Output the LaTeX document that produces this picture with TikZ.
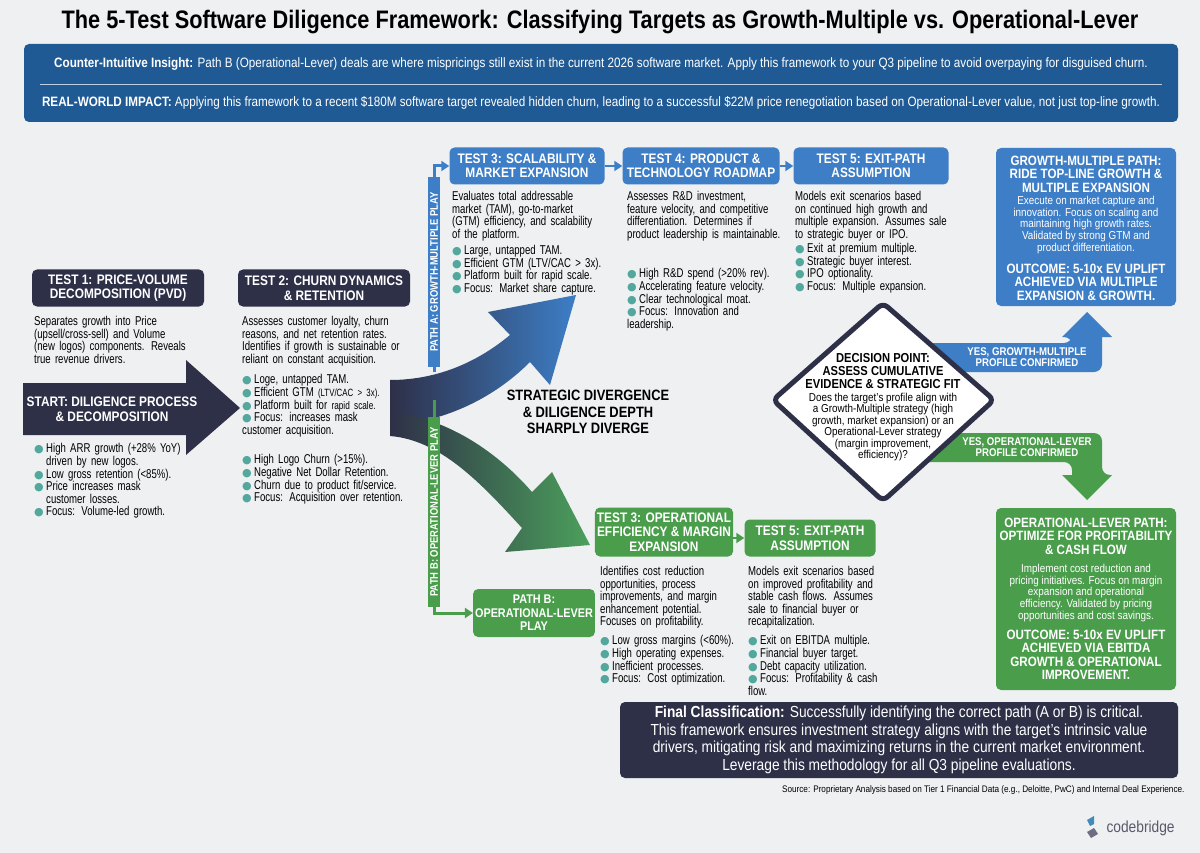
\documentclass[tikz,border=0pt]{standalone}
\usepackage{fontspec}
\setmainfont[FakeStretch=0.86]{Liberation Sans}
\newfontfamily\condf[FakeStretch=0.75]{Liberation Sans}
\newfontfamily\dejavu{DejaVu Sans}
\usetikzlibrary{arrows.meta,shadings}
\definecolor{navy}{HTML}{2E3048}
\definecolor{bblue}{HTML}{3D7EC6}
\definecolor{ggreen}{HTML}{4A9E4B}
\definecolor{banner}{HTML}{1F5A94}
\definecolor{tealb}{HTML}{52A89C}
\definecolor{bg}{HTML}{EEF0F2}
\hyphenpenalty=10000
\exhyphenpenalty=10000
\newcommand\bi[1]{\par\hangindent=12pt\hangafter=1\noindent\makebox[12pt][l]{\textcolor{tealb}{\dejavu\fontsize{11}{11}\selectfont ●}}#1}
\tikzset{
  hdr/.style={rounded corners=5pt, text=white, font=\fontsize{13.8}{14.5}\selectfont\bfseries, align=center, inner sep=2pt},
  desc/.style={anchor=north west, inner sep=0pt, align=left, font=\condf\fontsize{12.8}{12.6}\selectfont},
  conn/.style={-{Triangle[length=8pt,width=10pt]}, line width=3pt},
}
\begin{document}
\begin{tikzpicture}[x=1pt,y=-1pt]
\useasboundingbox (0,0) rectangle (1200,853);
\fill[bg] (0,0) rectangle (1200,853);
\node[font=\fontsize{25.3}{27}\selectfont\bfseries] (title) at (600,22) {The 5-Test Software Diligence Framework: Classifying Targets as Growth-Multiple vs. Operational-Lever};
\fill[banner, rounded corners=5pt] (24,44) rectangle (1178,122);
\draw[white!70!banner, line width=0.8pt] (40,84) -- (1162,84);
\node[text=white, font=\fontsize{13.6}{14}\selectfont] (b1) at (601,64) {\textbf{Counter-Intuitive Insight:} Path B (Operational-Lever) deals are where mispricings still exist in the current 2026 software market. Apply this framework to your Q3 pipeline to avoid overpaying for disguised churn.};
\node[text=white, font=\fontsize{13.6}{14}\selectfont] (b2) at (601,103) {\textbf{REAL-WORLD IMPACT:} Applying this framework to a recent \$180M software target revealed hidden churn, leading to a successful \$22M price renegotiation based on Operational-Lever value, not just top-line growth.};
% start arrow
\fill[navy] (23,383) -- (186,383) -- (186,360) -- (240,408) -- (186,455) -- (186,435) -- (23,435) -- cycle;
\node[text=white, font=\fontsize{13.8}{15}\selectfont\bfseries, align=center] (start) at (112,409) {START: DILIGENCE PROCESS\\\& DECOMPOSITION};
% split arrows
\shade[left color=navy, right color=bblue] (390,380) .. controls (440,380) and (480,360) .. (510,335) -- (488,312) -- (576,295) -- (550,385) -- (530,362) .. controls (490,402) and (440,422) .. (390,426) -- cycle;
\shade[left color=navy, right color=ggreen!80!tealb] (390,412) .. controls (450,418) and (500,455) .. (532,492) -- (552,472) -- (590,545) -- (505,552) -- (522,528) .. controls (480,482) and (440,440) .. (390,436) -- cycle;
\node[font=\fontsize{15}{16.5}\selectfont\bfseries, align=center] (div) at (588,412) {STRATEGIC DIVERGENCE\\\& DILIGENCE DEPTH\\SHARPLY DIVERGE};
% test1 / test2
\node[hdr, fill=navy, minimum width=172pt, minimum height=37pt] (t1) at (118,288) {TEST 1: PRICE-VOLUME\\DECOMPOSITION (PVD)};
\node[desc, text width=155pt] (t1d) at (34,316) {Separates growth into Price (upsell/cross-sell) and Volume (new logos) components. Reveals true revenue drivers.};
\node[desc, text width=150pt] (t1b) at (34,440) {\bi{High ARR growth (+28\% YoY) driven by new logos.}\bi{Low gross retention (<85\%).}\bi{Price increases mask customer losses.}\bi{Focus: Volume-led growth.}};
\node[hdr, fill=navy, minimum width=172pt, minimum height=37pt] (t2) at (324,288) {TEST 2: CHURN DYNAMICS\\\& RETENTION};
\node[desc, text width=172pt] (t2d) at (242,316) {Assesses customer loyalty, churn reasons, and net retention rates. Identifies if growth is sustainable or reliant on constant acquisition.};
\node[desc, text width=150pt] (t2b) at (242,371) {\bi{Loge, untapped TAM.}\bi{Efficient GTM {\fontsize{10.5}{10}\selectfont(LTV/CAC > 3x).}}\bi{Platform built for {\fontsize{11}{10}\selectfont rapid scale.}}\bi{Focus: increases mask customer acquisition.}};
\node[desc, text width=175pt] (t2c) at (242,451) {\bi{High Logo Churn (>15\%).}\bi{Negative Net Dollar Retention.}\bi{Churn due to product fit/service.}\bi{Focus: Acquisition over retention.}};
% path A
\node[hdr, fill=bblue, minimum width=155pt, minimum height=37pt] (t3) at (527,166) {TEST 3: SCALABILITY \&\\MARKET EXPANSION};
\node[hdr, fill=bblue, minimum width=157pt, minimum height=37pt] (t4) at (701,166) {TEST 4: PRODUCT \&\\TECHNOLOGY ROADMAP};
\node[hdr, fill=bblue, minimum width=155pt, minimum height=37pt] (t5) at (871,166) {TEST 5: EXIT-PATH\\ASSUMPTION};
\draw[bblue, conn, line width=2pt] (t3.east) -- (t4.west);
\draw[bblue, conn, line width=2pt] (t4.east) -- (t5.west);
\coordinate (pa) at (434,372);
\draw[bblue, conn] (pa) |- (t3.west);
\node[fill=bblue, text=white, rotate=90, font=\fontsize{11}{11}\selectfont\bfseries, minimum width=190pt, inner sep=2.5pt] (pal) at (434,272) {PATH A: GROWTH-MULTIPLE PLAY};
\node[desc, text width=150pt] (t3d) at (452,191) {Evaluates total addressable market (TAM), go-to-market (GTM) efficiency, and scalability of the platform.};
\node[desc, text width=165pt] (t3b) at (452,242) {\bi{Large, untapped TAM.}\bi{Efficient GTM (LTV/CAC > 3x).}\bi{Platform built for rapid scale.}\bi{Focus: Market share capture.}};
\node[desc, text width=154pt] (t4d) at (627,191) {Assesses R\&D investment, feature velocity, and competitive differentiation. Determines if product leadership is maintainable.};
\node[desc, text width=150pt] (t4b) at (627,265) {\bi{High R\&D spend (>20\% rev).}\bi{Accelerating feature velocity.}\bi{Clear technological moat.}\bi{Focus: Innovation and leadership.}};
\node[desc, text width=156pt] (t5d) at (795,191) {Models exit scenarios based on continued high growth and multiple expansion. Assumes sale to strategic buyer or IPO.};
\node[desc, text width=155pt] (t5b) at (795,240) {\bi{Exit at premium multiple.}\bi{Strategic buyer interest.}\bi{IPO optionality.}\bi{Focus: Multiple expansion.}};
\node[fill=bblue, rounded corners=5pt, minimum width=180pt, minimum height=158pt] (gm) at (1086,227) {};
\node[text=white, align=center, font=\fontsize{13.5}{13.5}\selectfont\bfseries] (gmt) at (1086,174) {GROWTH-MULTIPLE PATH:\\RIDE TOP-LINE GROWTH \&\\MULTIPLE EXPANSION};
\node[text=white, align=center, font=\fontsize{11.5}{11.7}\selectfont] (gmd) at (1086,225) {Execute on market capture and\\innovation. Focus on scaling and\\maintaining high growth rates.\\Validated by strong GTM and\\product differentiation.};
\node[text=white, align=center, font=\fontsize{13.5}{13.5}\selectfont\bfseries] (gmo) at (1086,282) {OUTCOME: 5-10x EV UPLIFT\\ACHIEVED VIA MULTIPLE\\EXPANSION \& GROWTH.};
% decision arrows
\fill[bblue, rounded corners=8pt] (900,343) -- (1072,343) -- (1072,337) [sharp corners]-- (1062,337) -- (1087,312) -- (1112,337) -- (1102,337) [rounded corners=8pt]-- (1102,372) -- (900,372) -- cycle;
\node[text=white, align=center, font=\fontsize{11.2}{11.3}\selectfont\bfseries] (yg) at (1027,357) {YES, GROWTH-MULTIPLE\\PROFILE CONFIRMED};
\fill[ggreen, rounded corners=8pt] (900,433) -- (1102,433) -- (1102,475) [sharp corners]-- (1112,475) -- (1087,500) -- (1062,475) -- (1072,475) [rounded corners=8pt]-- (1072,462) -- (900,462) -- cycle;
\node[text=white, align=center, font=\fontsize{11.2}{11.3}\selectfont\bfseries] (yo) at (1027,447) {YES, OPERATIONAL-LEVER\\PROFILE CONFIRMED};
\draw[navy, line width=5pt, rounded corners=6pt, fill=white] (883,303) -- (994,400) -- (883,501) -- (773,400) -- cycle;
\node[align=center, font=\fontsize{13}{13.3}\selectfont\bfseries] (dp) at (883,371) {DECISION POINT:\\ASSESS CUMULATIVE\\EVIDENCE \& STRATEGIC FIT};
\node[align=center, font=\fontsize{11.5}{11.5}\selectfont] (dpd) at (883,427) {Does the target's profile align with\\a Growth-Multiple strategy (high\\growth, market expansion) or an\\Operational-Lever strategy\\(margin improvement,\\efficiency)?};
% path B
\node[hdr, fill=ggreen, minimum width=118pt, minimum height=48pt, font=\fontsize{12.6}{13.5}\selectfont\bfseries] (pb) at (534,613) {PATH B:\\OPERATIONAL-LEVER\\PLAY};
\coordinate (pbs) at (434,400);
\draw[ggreen, conn] (pbs) |- (pb.west);
\node[fill=ggreen, text=white, rotate=90, font=\fontsize{11}{11}\selectfont\bfseries, minimum width=190pt, inner sep=2.5pt] (pbl) at (434,512) {PATH B: OPERATIONAL-LEVER PLAY};
\node[hdr, fill=ggreen, minimum width=136pt, minimum height=49pt] (o3) at (664,532) {TEST 3: OPERATIONAL\\EFFICIENCY \& MARGIN\\EXPANSION};
\node[hdr, fill=ggreen, minimum width=131pt, minimum height=37pt] (o5) at (810,538) {TEST 5: EXIT-PATH\\ASSUMPTION};
\draw[ggreen, conn, line width=2pt] (o3.east |- o5.west) -- (o5.west);
\node[desc, text width=135pt] (o3d) at (600,566) {Identifies cost reduction opportunities, process improvements, and margin enhancement potential. Focuses on profitability.};
\node[desc, text width=140pt] (o3b) at (600,632) {\bi{Low gross margins (<60\%).}\bi{High operating expenses.}\bi{Inefficient processes.}\bi{Focus: Cost optimization.}};
\node[desc, text width=134pt] (o5d) at (748,566) {Models exit scenarios based on improved profitability and stable cash flows. Assumes sale to financial buyer or recapitalization.};
\node[desc, text width=136pt] (o5b) at (748,632) {\bi{Exit on EBITDA multiple.}\bi{Financial buyer target.}\bi{Debt capacity utilization.}\bi{Focus: Profitability \& cash flow.}};
\node[fill=ggreen, rounded corners=5pt, minimum width=180pt, minimum height=182pt] (ol) at (1086,599) {};
\node[text=white, align=center, font=\fontsize{13.5}{13.5}\selectfont\bfseries] (olt) at (1086,536) {OPERATIONAL-LEVER PATH:\\OPTIMIZE FOR PROFITABILITY\\\& CASH FLOW};
\node[text=white, align=center, font=\fontsize{11.5}{11.7}\selectfont] (old) at (1086,593) {Implement cost reduction and\\pricing initiatives. Focus on margin\\expansion and operational\\efficiency. Validated by pricing\\opportunities and cost savings.};
\node[text=white, align=center, font=\fontsize{13.5}{13.5}\selectfont\bfseries] (olo) at (1086,655) {OUTCOME: 5-10x EV UPLIFT\\ACHIEVED VIA EBITDA\\GROWTH \& OPERATIONAL\\IMPROVEMENT.};
% final
\node[fill=navy, rounded corners=5pt, minimum width=558pt, minimum height=76pt, text=white, align=center, font=\fontsize{16}{17.5}\selectfont] (fin) at (899,740) {\textbf{Final Classification:} Successfully identifying the correct path (A or B) is critical.\\This framework ensures investment strategy aligns with the target's intrinsic value\\drivers, mitigating risk and maximizing returns in the current market environment.\\Leverage this methodology for all Q3 pipeline evaluations.};
\node[anchor=east, font=\fontsize{9.5}{9}\selectfont] (src) at (1188,790) {Source: Proprietary Analysis based on Tier 1 Financial Data (e.g., Deloitte, PwC) and Internal Deal Experience.};
\node[anchor=west, font=\fontsize{16}{16}\selectfont, text=navy!80] (logo) at (1103,828) {codebridge};
\fill[bblue!70!tealb] (1087,820) -- (1094,816) -- (1094,824) -- (1090,826) -- cycle;
\fill[navy!70] (1087,832) -- (1094,828) -- (1098,834) -- (1091,838) -- cycle;
\end{tikzpicture}
\end{document}
